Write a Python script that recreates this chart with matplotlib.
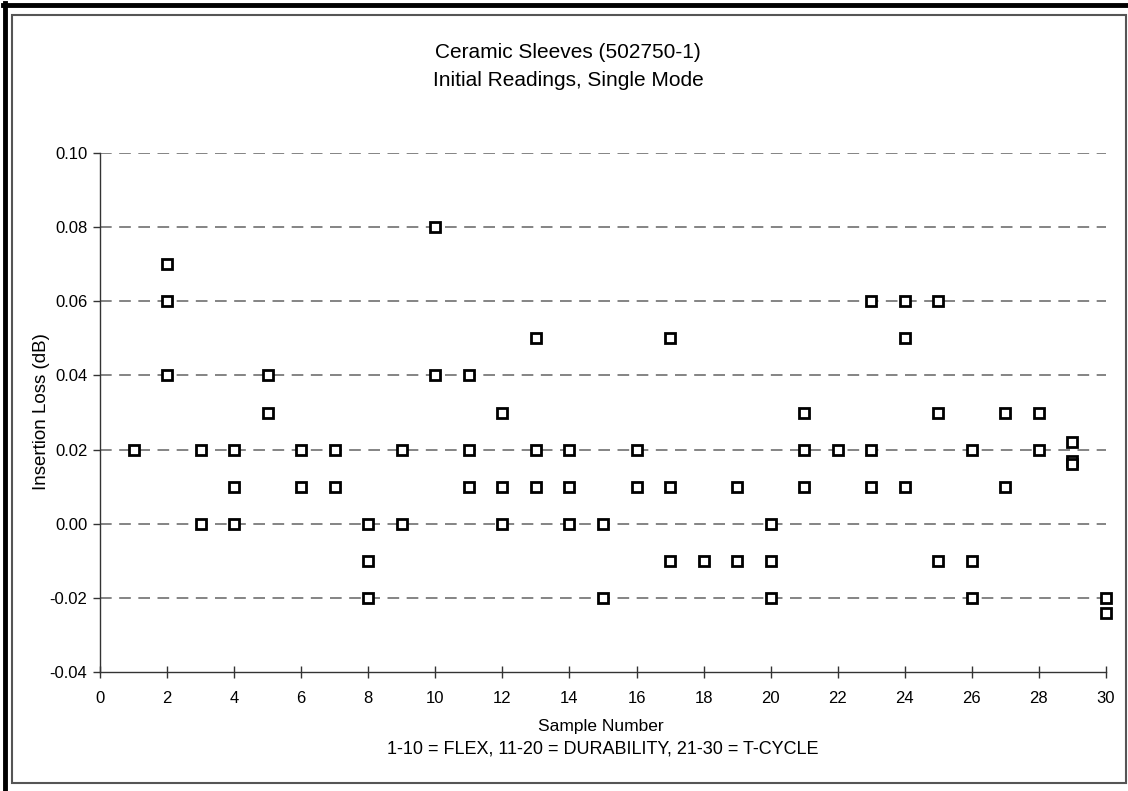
import matplotlib
matplotlib.use("Agg")
import matplotlib.pyplot as plt
from matplotlib.lines import Line2D
from matplotlib.patches import Rectangle

plt.rcParams['font.family'] = ['Liberation Sans', 'DejaVu Sans']

title_lines = ["Ceramic Sleeves (502750-1)", "Initial Readings, Single Mode"]
x_label = "Sample Number"
x_note = "1-10 = FLEX, 11-20 = DURABILITY, 21-30 = T-CYCLE"
y_label = "Insertion Loss (dB)"

sample = [1,
          2, 2, 2,
          3, 3,
          4, 4, 4,
          5, 5,
          6, 6,
          7, 7,
          8, 8, 8,
          9, 9,
          10, 10,
          11, 11, 11,
          12, 12, 12,
          13, 13, 13,
          14, 14, 14,
          15, 15,
          16, 16,
          17, 17, 17,
          18,
          19, 19,
          20, 20, 20,
          21, 21, 21,
          22,
          23, 23, 23,
          24, 24, 24,
          25, 25, 25,
          26, 26, 26,
          27, 27,
          28, 28,
          29, 29, 29,
          30, 30]
loss = [0.02,
        0.07, 0.06, 0.04,
        0.02, 0.00,
        0.02, 0.01, 0.00,
        0.04, 0.03,
        0.02, 0.01,
        0.02, 0.01,
        0.00, -0.01, -0.02,
        0.02, 0.00,
        0.08, 0.04,
        0.04, 0.02, 0.01,
        0.03, 0.01, 0.00,
        0.05, 0.02, 0.01,
        0.02, 0.01, 0.00,
        0.00, -0.02,
        0.02, 0.01,
        0.05, 0.01, -0.01,
        -0.01,
        0.01, -0.01,
        0.00, -0.01, -0.02,
        0.03, 0.02, 0.01,
        0.02,
        0.06, 0.02, 0.01,
        0.06, 0.05, 0.01,
        0.06, 0.03, -0.01,
        0.02, -0.01, -0.02,
        0.03, 0.01,
        0.03, 0.02,
        0.022, 0.017, 0.016,
        -0.020, -0.024]

x_ticks = list(range(0, 31, 2))
y_ticks = [-0.04, -0.02, 0.00, 0.02, 0.04, 0.06, 0.08, 0.10]

W, H = 1128, 791
fig = plt.figure(figsize=(W/100, H/100), dpi=100)
ax = fig.add_axes([100/W, 1-672/H, (1106-100)/W, (672-153)/H])

for yv in y_ticks[1:]:
    ax.axhline(yv, color='#707070', lw=1.2, ls=(0, (7, 4.5)), zorder=1)

ax.plot(sample, loss, ls='none', marker='s', ms=7, mfc='white', mec='black',
        mew=2.0, zorder=3, clip_on=False)

ax.set_xlim(0, 30)
ax.set_ylim(-0.04, 0.10)
ax.set_xticks(x_ticks)
ax.set_yticks(y_ticks)
ax.set_yticklabels([f"{v:.2f}" for v in y_ticks])
for s in ['top', 'right']:
    ax.spines[s].set_visible(False)
for s in ['left', 'bottom']:
    ax.spines[s].set_color('#333333')
    ax.spines[s].set_linewidth(1.0)
ax.tick_params(axis='x', direction='inout', length=9, width=1, color='#333333',
               labelsize=12, pad=9)
ax.tick_params(axis='y', direction='out', length=5, width=1, color='#333333',
               labelsize=12, pad=4)

fig.text(42/W, 1-412/H, y_label, ha='center', va='center', rotation=90,
         fontsize=13.5)
fig.text(601/W, 1-726/H, x_label, ha='center', va='center', fontsize=12.5)
fig.text(603/W, 1-749/H, x_note, ha='center', va='center', fontsize=13)
fig.text(568/W, 1-53/H, title_lines[0], ha='center', va='center', fontsize=15)
fig.text(568/W, 1-80/H, title_lines[1], ha='center', va='center', fontsize=15)

# frame
fig.add_artist(Rectangle((12/W, 1-783/H), (1126-12)/W, (783-15)/H,
                         transform=fig.transFigure, fill=False,
                         edgecolor='#555555', lw=1.5))
fig.add_artist(Line2D([3/W, 1], [1-5/H, 1-5/H], transform=fig.transFigure,
                      color='black', lw=3.5))
fig.add_artist(Line2D([5/W, 5/W], [0, 1-3/H], transform=fig.transFigure,
                      color='black', lw=3.5))

fig.savefig("out.png", dpi=100)
